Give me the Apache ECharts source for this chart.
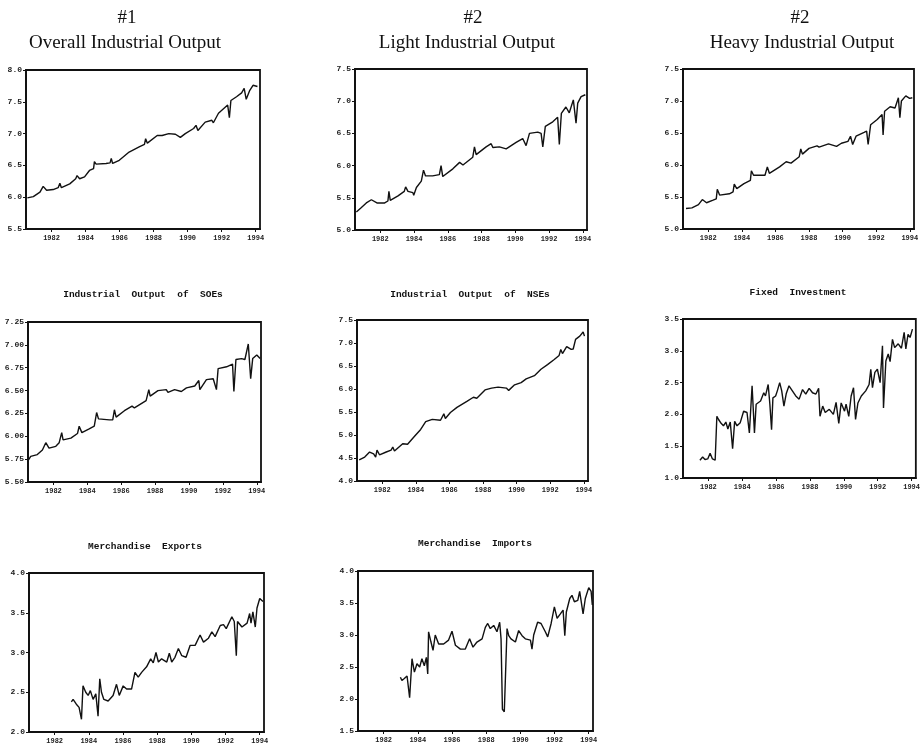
<!DOCTYPE html>
<html>
<head>
<meta charset="utf-8">
<script src="https://cdn.jsdelivr.net/npm/echarts@6/dist/echarts.min.js"></script>
<style>
  html, body { margin: 0; padding: 0; background: #fff; }
  #chart { width: 923px; height: 745px; }
</style>
</head>
<body>
<div id="chart"></div>
<script>
// monthly-ish readings, [year, value]
const overall = [[1980.58,5.99],[1980.93,6.01],[1981.32,6.08],[1981.51,6.17],[1981.71,6.11],[1982.10,6.12],[1982.39,6.15],[1982.49,6.22],[1982.58,6.15],[1983.07,6.21],[1983.42,6.29],[1983.50,6.34],[1983.65,6.29],[1983.94,6.32],[1984.23,6.42],[1984.47,6.45],[1984.52,6.56],[1984.62,6.52],[1985.20,6.53],[1985.44,6.54],[1985.51,6.61],[1985.59,6.53],[1985.98,6.58],[1986.56,6.71],[1987.15,6.79],[1987.46,6.83],[1987.53,6.92],[1987.63,6.85],[1988.21,6.97],[1988.50,6.97],[1988.60,6.94],[1988.89,7.00],[1989.28,6.99],[1989.57,6.94],[1989.86,7.00],[1990.35,7.08],[1990.49,7.13],[1990.60,7.05],[1991.03,7.18],[1991.42,7.21],[1991.51,7.17],[1991.81,7.32],[1992.35,7.45],[1992.45,7.25],[1992.54,7.52],[1992.87,7.58],[1993.17,7.64],[1993.32,7.71],[1993.44,7.54],[1993.65,7.68],[1993.84,7.76],[1994.10,7.74]];

const light = [[1980.58,5.28],[1980.88,5.35],[1981.17,5.42],[1981.47,5.47],[1981.57,5.50],[1981.80,5.42],[1982.26,5.42],[1982.45,5.45],[1982.51,5.60],[1982.59,5.46],[1983.05,5.53],[1983.42,5.60],[1983.50,5.67],[1983.64,5.60],[1983.93,5.58],[1983.98,5.54],[1984.14,5.66],[1984.43,5.76],[1984.56,5.93],[1984.68,5.84],[1985.10,5.84],[1985.50,5.86],[1985.60,6.00],[1985.70,5.83],[1986.30,5.95],[1986.70,6.05],[1986.90,6.01],[1987.48,6.13],[1987.58,6.29],[1987.68,6.17],[1988.27,6.29],[1988.57,6.34],[1988.67,6.28],[1989.06,6.29],[1989.46,6.26],[1990.05,6.36],[1990.44,6.42],[1990.64,6.31],[1990.84,6.50],[1991.33,6.52],[1991.53,6.50],[1991.63,6.29],[1991.78,6.61],[1992.22,6.68],[1992.51,6.75],[1992.61,6.33],[1992.73,6.81],[1993.00,6.91],[1993.20,6.82],[1993.44,7.02],[1993.60,6.66],[1993.70,6.97],[1993.90,7.07],[1994.15,7.10]];

const heavy = [[1980.68,5.32],[1981.03,5.33],[1981.42,5.38],[1981.65,5.46],[1981.90,5.41],[1982.29,5.45],[1982.48,5.47],[1982.54,5.62],[1982.68,5.53],[1983.26,5.55],[1983.48,5.58],[1983.55,5.70],[1983.70,5.63],[1984.13,5.71],[1984.51,5.76],[1984.57,5.91],[1984.70,5.84],[1985.38,5.84],[1985.45,5.83],[1985.52,5.97],[1985.64,5.87],[1986.25,5.97],[1986.64,6.05],[1986.93,6.03],[1987.42,6.13],[1987.51,6.25],[1987.61,6.17],[1988.00,6.26],[1988.48,6.30],[1988.54,6.32],[1988.60,6.28],[1989.16,6.33],[1989.64,6.29],[1989.93,6.34],[1990.32,6.37],[1990.47,6.45],[1990.60,6.32],[1990.80,6.45],[1991.28,6.51],[1991.43,6.53],[1991.52,6.32],[1991.67,6.63],[1992.06,6.71],[1992.35,6.79],[1992.41,6.47],[1992.50,6.84],[1992.83,6.91],[1993.12,6.89],[1993.32,7.05],[1993.41,6.74],[1993.50,7.00],[1993.76,7.08],[1993.99,7.04],[1994.15,7.05]];

const soes = [[1980.52,5.74],[1980.66,5.78],[1981.05,5.80],[1981.35,5.85],[1981.55,5.93],[1981.74,5.87],[1982.14,5.89],[1982.34,5.93],[1982.49,6.04],[1982.57,5.96],[1983.03,5.98],[1983.42,6.03],[1983.52,6.11],[1983.68,6.04],[1984.11,6.08],[1984.41,6.11],[1984.55,6.26],[1984.66,6.19],[1985.30,6.18],[1985.50,6.18],[1985.60,6.29],[1985.70,6.21],[1986.19,6.28],[1986.64,6.33],[1986.78,6.31],[1987.47,6.39],[1987.63,6.51],[1987.71,6.44],[1988.17,6.50],[1988.66,6.51],[1988.76,6.48],[1989.15,6.51],[1989.55,6.49],[1989.85,6.53],[1990.34,6.55],[1990.58,6.61],[1990.64,6.51],[1991.03,6.62],[1991.43,6.63],[1991.62,6.51],[1991.72,6.74],[1992.22,6.76],[1992.57,6.79],[1992.65,6.49],[1992.77,6.84],[1993.10,6.85],[1993.30,6.84],[1993.50,7.01],[1993.64,6.63],[1993.76,6.85],[1994.00,6.89],[1994.20,6.85]];

const nses = [[1980.63,4.46],[1980.96,4.52],[1981.25,4.63],[1981.49,4.59],[1981.61,4.52],[1981.69,4.67],[1981.84,4.57],[1982.24,4.63],[1982.53,4.67],[1982.63,4.74],[1982.73,4.65],[1983.22,4.81],[1983.51,4.80],[1983.90,4.96],[1984.29,5.12],[1984.59,5.29],[1984.98,5.34],[1985.47,5.32],[1985.67,5.46],[1985.76,5.36],[1986.06,5.49],[1986.45,5.60],[1986.55,5.56],[1987.04,5.73],[1987.43,5.82],[1987.63,5.80],[1988.12,5.98],[1988.51,6.02],[1988.90,6.04],[1989.39,6.02],[1989.53,5.97],[1989.88,6.09],[1990.27,6.14],[1990.57,6.22],[1990.67,6.19],[1991.06,6.29],[1991.45,6.43],[1991.84,6.53],[1992.24,6.64],[1992.53,6.73],[1992.63,6.86],[1992.73,6.77],[1992.98,6.92],[1993.25,6.86],[1993.37,6.87],[1993.51,7.08],[1993.76,7.15],[1993.96,7.24],[1994.04,7.15]];

const fixedInv = [[1981.50,1.28],[1981.66,1.33],[1981.80,1.29],[1981.96,1.30],[1982.10,1.39],[1982.24,1.30],[1982.40,1.28],[1982.50,1.97],[1982.60,1.92],[1982.75,1.86],[1982.89,1.82],[1983.03,1.88],[1983.15,1.77],[1983.29,1.88],[1983.43,1.46],[1983.55,1.89],[1983.69,1.82],[1983.88,1.87],[1984.08,2.05],[1984.28,2.03],[1984.42,1.71],[1984.58,2.45],[1984.72,1.71],[1984.82,2.16],[1985.08,2.21],[1985.27,2.34],[1985.37,2.29],[1985.53,2.47],[1985.63,2.16],[1985.73,1.76],[1985.81,2.26],[1985.97,2.29],[1986.07,2.37],[1986.21,2.50],[1986.33,2.37],[1986.46,2.13],[1986.60,2.33],[1986.76,2.45],[1986.96,2.37],[1987.16,2.29],[1987.36,2.24],[1987.56,2.39],[1987.75,2.32],[1987.95,2.41],[1988.15,2.34],[1988.35,2.32],[1988.51,2.41],[1988.59,1.97],[1988.75,2.13],[1988.90,2.03],[1989.14,2.08],[1989.38,2.00],[1989.54,2.19],[1989.70,1.86],[1989.84,2.18],[1990.04,2.05],[1990.13,2.16],[1990.29,1.97],[1990.43,2.29],[1990.57,2.42],[1990.69,1.92],[1990.83,2.18],[1991.03,2.29],[1991.29,2.37],[1991.49,2.47],[1991.59,2.71],[1991.69,2.42],[1991.83,2.66],[1991.98,2.71],[1992.14,2.50],[1992.28,3.08],[1992.34,2.10],[1992.48,2.84],[1992.62,2.95],[1992.73,2.83],[1992.87,3.18],[1993.00,3.05],[1993.21,3.11],[1993.40,3.04],[1993.56,3.29],[1993.66,3.03],[1993.79,3.26],[1993.91,3.21],[1994.05,3.34]];

const exportsM = [[1982.98,2.38],[1983.08,2.41],[1983.17,2.42],[1983.27,2.35],[1983.43,2.31],[1983.57,2.16],[1983.66,2.58],[1983.82,2.50],[1983.96,2.46],[1984.09,2.52],[1984.25,2.41],[1984.41,2.48],[1984.54,2.20],[1984.64,2.67],[1984.74,2.50],[1984.88,2.41],[1985.13,2.39],[1985.42,2.46],[1985.62,2.60],[1985.78,2.46],[1986.01,2.58],[1986.21,2.54],[1986.50,2.54],[1986.70,2.75],[1986.89,2.69],[1987.09,2.75],[1987.38,2.82],[1987.62,2.92],[1987.77,2.87],[1987.93,3.00],[1988.07,2.88],[1988.26,2.92],[1988.56,2.88],[1988.71,2.99],[1988.85,2.88],[1989.04,2.94],[1989.24,3.05],[1989.44,2.96],[1989.69,2.94],[1989.93,3.09],[1990.22,3.09],[1990.51,3.22],[1990.71,3.13],[1991.00,3.18],[1991.20,3.26],[1991.39,3.20],[1991.69,3.34],[1991.88,3.35],[1992.04,3.30],[1992.37,3.45],[1992.51,3.39],[1992.63,2.96],[1992.70,3.39],[1992.96,3.32],[1993.26,3.37],[1993.41,3.49],[1993.49,3.37],[1993.60,3.51],[1993.74,3.32],[1993.84,3.56],[1994.00,3.68],[1994.19,3.64]];

const importsM = [[1982.98,2.34],[1983.07,2.29],[1983.21,2.32],[1983.37,2.36],[1983.52,2.02],[1983.66,2.63],[1983.80,2.42],[1983.95,2.55],[1984.11,2.50],[1984.24,2.63],[1984.38,2.52],[1984.50,2.65],[1984.58,2.39],[1984.63,3.05],[1984.77,2.89],[1984.89,2.76],[1985.02,3.00],[1985.22,2.86],[1985.51,2.86],[1985.80,2.92],[1986.00,3.06],[1986.20,2.84],[1986.49,2.78],[1986.78,2.78],[1987.03,2.94],[1987.23,2.81],[1987.46,2.89],[1987.76,2.94],[1987.95,3.12],[1988.09,3.18],[1988.24,3.10],[1988.44,3.15],[1988.63,3.05],[1988.79,3.20],[1988.87,2.94],[1988.95,1.84],[1989.06,1.80],[1989.14,1.79],[1989.22,3.10],[1989.32,2.99],[1989.45,2.94],[1989.71,2.89],[1989.90,3.07],[1990.10,2.99],[1990.29,2.94],[1990.59,2.92],[1990.68,2.78],[1990.78,3.00],[1991.01,3.20],[1991.21,3.18],[1991.46,3.05],[1991.60,2.97],[1991.80,3.18],[1991.99,3.44],[1992.15,3.26],[1992.34,3.33],[1992.50,3.39],[1992.60,2.99],[1992.69,3.36],[1992.89,3.57],[1993.02,3.62],[1993.16,3.52],[1993.36,3.54],[1993.47,3.68],[1993.67,3.33],[1993.80,3.57],[1994.00,3.74],[1994.14,3.68],[1994.21,3.47]];

const yearTicks = [1982, 1984, 1986, 1988, 1990, 1992, 1994];

const panels = [
  { data: overall,  box: [26, 70, 234, 159],  yMin: 5.5, yMax: 8.0, step: 0.5,  dec: 1 },
  { data: light,    box: [355, 69, 232, 161], yMin: 5.0, yMax: 7.5, step: 0.5,  dec: 1 },
  { data: heavy,    box: [683, 69, 231, 160], yMin: 5.0, yMax: 7.5, step: 0.5,  dec: 1 },
  { data: soes,     box: [28, 322, 233, 160], yMin: 5.5, yMax: 7.25, step: 0.25, dec: 2 },
  { data: nses,     box: [357, 320, 231, 161], yMin: 4.0, yMax: 7.5, step: 0.5, dec: 1 },
  { data: fixedInv, box: [683, 319, 233, 159], yMin: 1.0, yMax: 3.5, step: 0.5, dec: 1 },
  { data: exportsM, box: [29, 573, 235, 160], yMin: 2.0, yMax: 4.0, step: 0.5,  dec: 1 },
  { data: importsM, box: [358, 571, 235, 160], yMin: 1.5, yMax: 4.0, step: 0.5, dec: 1 }
];

const serif = 'Liberation Serif';
const mono = 'Liberation Mono';

function txt(x, y, text, font) {
  return {
    type: 'text', x: x, y: y,
    style: { text: text, font: font, fill: '#111', textAlign: 'center', textVerticalAlign: 'middle' }
  };
}

const titles = [
  txt(127, 18, '#1', '19px ' + serif),
  txt(125, 43, 'Overall Industrial Output', '19px ' + serif),
  txt(473, 18, '#2', '19px ' + serif),
  txt(467, 43, 'Light Industrial Output', '19px ' + serif),
  txt(800, 18, '#2', '19px ' + serif),
  txt(802, 43, 'Heavy Industrial Output', '19px ' + serif),
  txt(143, 295, 'Industrial  Output  of  SOEs', 'bold 9.5px ' + mono),
  txt(470, 295, 'Industrial  Output  of  NSEs', 'bold 9.5px ' + mono),
  txt(798, 293, 'Fixed  Investment', 'bold 9.5px ' + mono),
  txt(145, 547, 'Merchandise  Exports', 'bold 9.5px ' + mono),
  txt(475, 544, 'Merchandise  Imports', 'bold 9.5px ' + mono)
];

const grids = [], xAxes = [], yAxes = [], series = [];
panels.forEach((p, i) => {
  grids.push({
    left: p.box[0], top: p.box[1], width: p.box[2], height: p.box[3],
    show: true, borderColor: '#111', borderWidth: 1.8, containLabel: false
  });
  xAxes.push({
    type: 'value', gridIndex: i, min: 1980.5, max: 1994.25,
    splitLine: { show: false },
    axisLine: { lineStyle: { color: '#111', width: 1.8 } },
    axisTick: { customValues: yearTicks, length: 3, lineStyle: { color: '#111' } },
    axisLabel: {
      customValues: yearTicks, formatter: v => String(v),
      fontFamily: mono, fontWeight: 'bold', fontSize: 7, color: '#222', margin: 6
    }
  });
  yAxes.push({
    type: 'value', gridIndex: i, min: p.yMin, max: p.yMax, interval: p.step,
    splitLine: { show: false },
    axisLine: { show: true, lineStyle: { color: '#111', width: 1.8 } },
    axisTick: { show: true, length: 3, lineStyle: { color: '#111' } },
    axisLabel: {
      formatter: v => v.toFixed(p.dec),
      fontFamily: mono, fontWeight: 'bold', fontSize: 8, color: '#222', margin: 4
    }
  });
  series.push({
    type: 'line', xAxisIndex: i, yAxisIndex: i, data: p.data,
    showSymbol: false, symbol: 'none', animation: false,
    lineStyle: { color: '#111', width: 1.4 }
  });
});

const chart = echarts.init(document.getElementById('chart'));
chart.setOption({
  backgroundColor: '#fff',
  animation: false,
  graphic: titles,
  grid: grids,
  xAxis: xAxes,
  yAxis: yAxes,
  series: series
});
</script>
</body>
</html>
